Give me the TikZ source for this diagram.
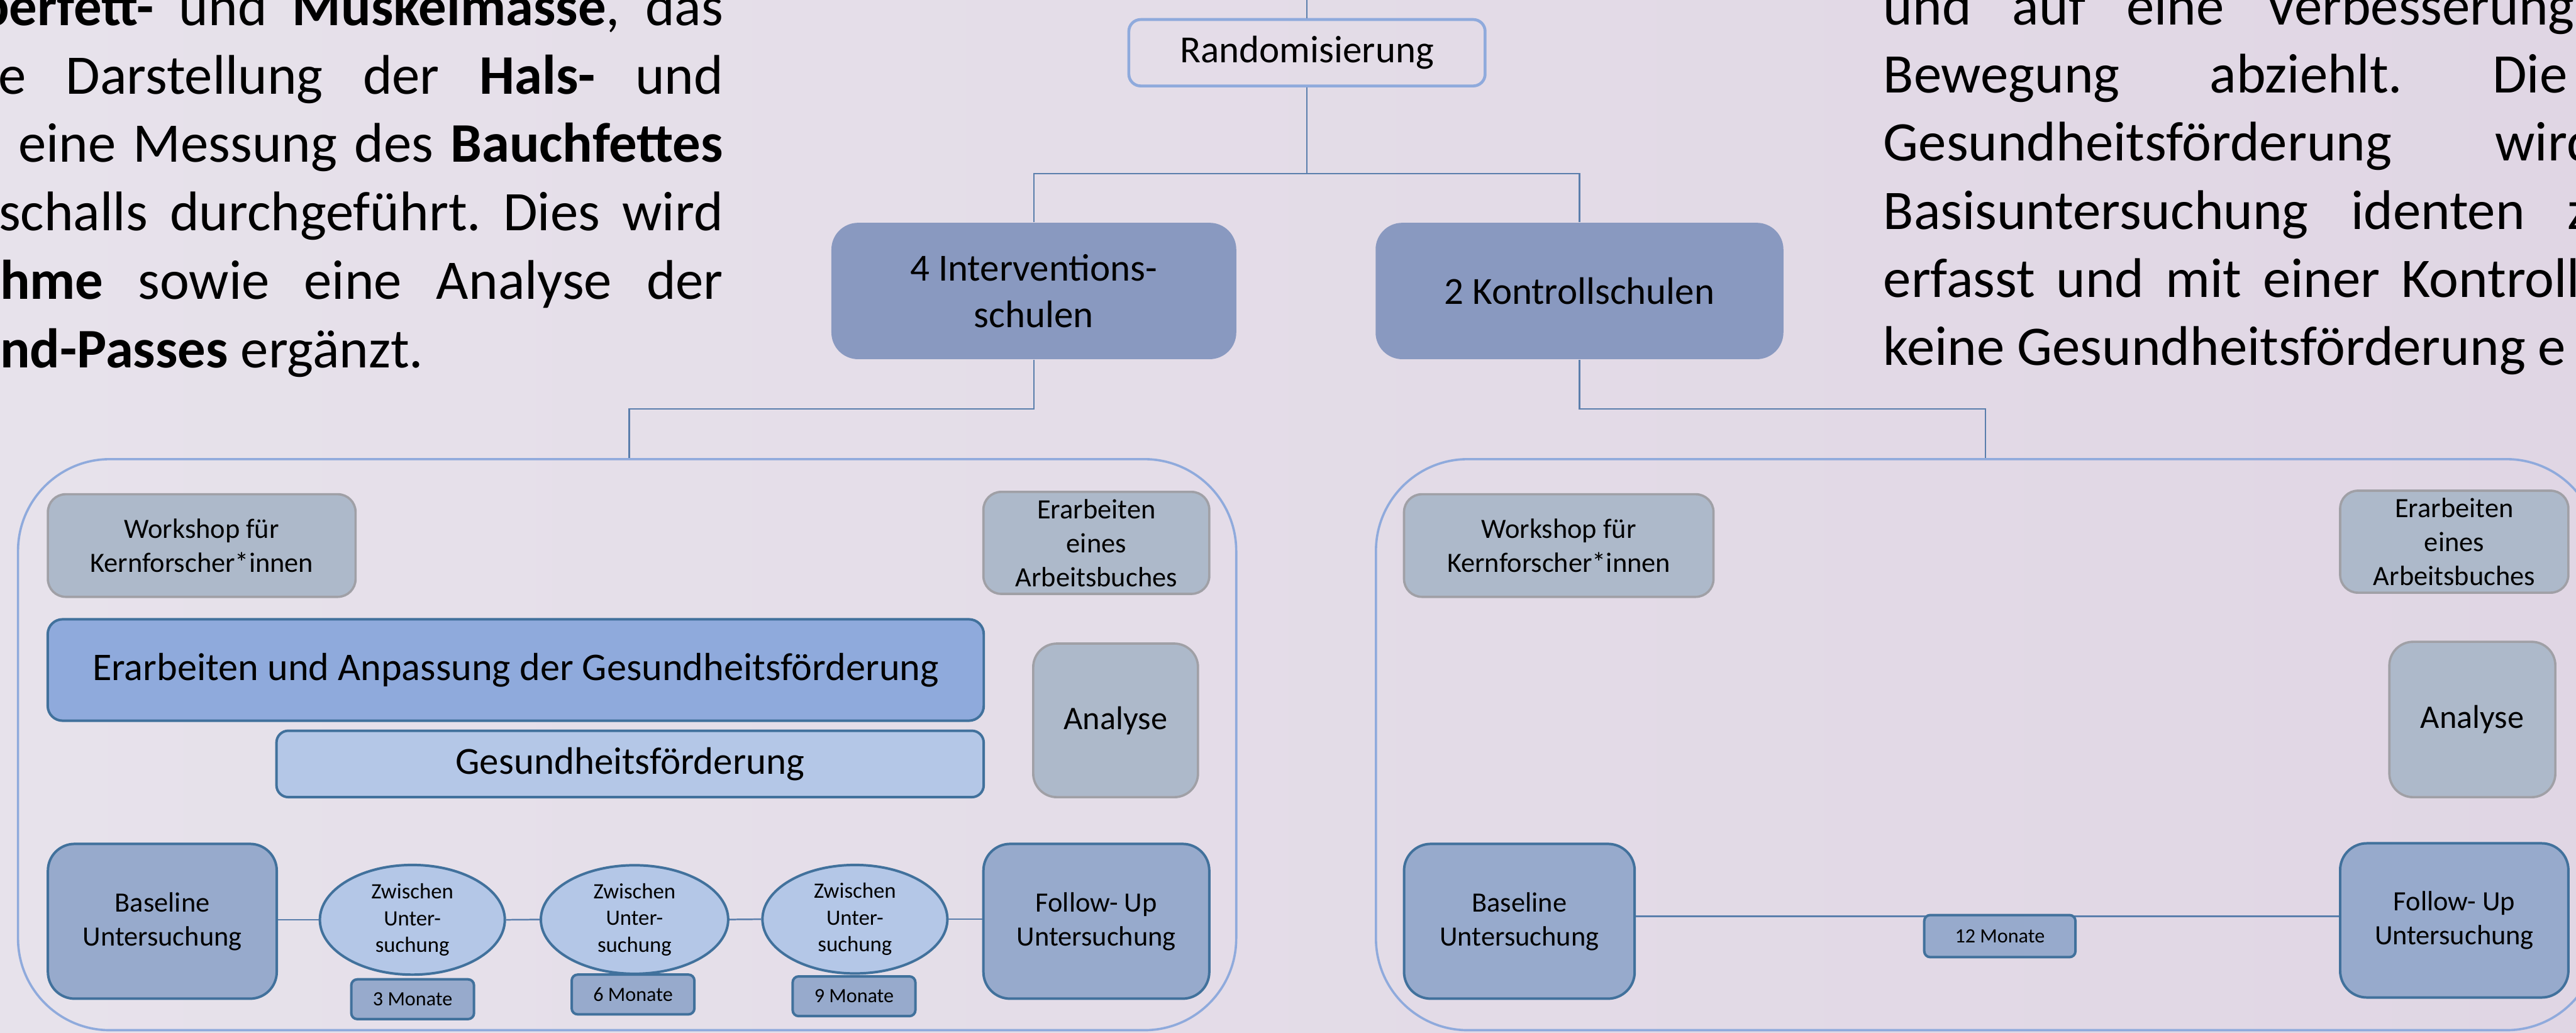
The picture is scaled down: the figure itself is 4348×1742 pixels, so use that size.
\documentclass[tikz,border=0pt]{standalone}
\usepackage{fontspec}
\setmainfont{Carlito}
\usetikzlibrary{shapes.geometric}
\frenchspacing

\definecolor{bgL}{RGB}{231,226,235}
\definecolor{bgR}{RGB}{224,214,228}
\definecolor{lineblue}{RGB}{90,126,172}
\definecolor{lightborder}{RGB}{143,170,220}
\definecolor{intfill}{RGB}{137,153,192}
\definecolor{grayfill}{RGB}{173,185,202}
\definecolor{grayborder}{RGB}{160,160,166}
\definecolor{darkborder}{RGB}{65,113,156}
\definecolor{midfill}{RGB}{143,170,220}
\definecolor{palefill}{RGB}{180,199,231}
\definecolor{examfill}{RGB}{151,170,204}

\newcommand\fsBlock{\fontsize{26.8pt}{32.7pt}\selectfont}
\newcommand\fsBig{\fontsize{18.4pt}{22.4pt}\selectfont}
\newcommand\fsDev{\fontsize{18.8pt}{22.9pt}\selectfont}
\newcommand\fsMid{\fontsize{15.8pt}{19.3pt}\selectfont}
\newcommand\fsSmall{\fontsize{13.4pt}{16.3pt}\selectfont}
\newcommand\fsTiny{\fontsize{10.5pt}{12.8pt}\selectfont}
\newcommand\fsMon{\fontsize{9.7pt}{11.8pt}\selectfont}

\tikzset{
  conn/.style={draw=lineblue, line width=0.75pt},
  blk/.style={inner sep=0pt, outer sep=0pt, font=\fsBlock\frenchspacing, text=black},
  randbox/.style={rectangle, rounded corners=0.2cm, draw=lightborder, line width=1.4pt, inner sep=0pt, font=\fsBig},
  schoolbox/.style={rectangle, rounded corners=0.45cm, fill=intfill, inner sep=0pt, align=center, font=\fsBig},
  container/.style={rectangle, rounded corners=1.55cm, draw=lightborder, line width=1.1pt, inner sep=0pt},
  graybox/.style={rectangle, rounded corners=0.3cm, fill=grayfill, draw=grayborder, line width=1.1pt, inner sep=0pt, align=center, font=\fsSmall},
  anabox/.style={rectangle, rounded corners=0.4cm, fill=grayfill, draw=grayborder, line width=1.1pt, inner sep=0pt, align=center, font=\fsMid},
  devbox/.style={rectangle, rounded corners=0.25cm, fill=midfill, draw=darkborder, line width=1.2pt, inner sep=0pt, align=center, font=\fsDev},
  gfbox/.style={rectangle, rounded corners=0.2cm, fill=palefill, draw=darkborder, line width=1.2pt, inner sep=0pt, align=center, font=\fsBig},
  exambox/.style={rectangle, rounded corners=0.45cm, fill=examfill, draw=darkborder, line width=1.2pt, inner sep=0pt, align=center, font=\fsSmall},
  zwell/.style={ellipse, fill=palefill, draw=darkborder, line width=1.2pt, inner sep=0pt, align=center, font=\fsTiny},
  monbox/.style={rectangle, rounded corners=0.1cm, fill=examfill, draw=darkborder, line width=1.2pt, inner sep=0pt, align=center, font=\fsMon}
}

\begin{document}
\begin{tikzpicture}[x=0.01cm, y=-0.01cm]
\useasboundingbox (0,0) rectangle (4348,1742);
\clip (0,0) rectangle (4348,1742);
\fill[left color=bgL, right color=bgR] (0,0) rectangle (4348,1742);

% left text block
\node[blk, anchor=base west] (t1) at (-35,43) {\makebox[12.55cm][s]{\textbf{berfett-} und \textbf{Muskelmasse}, das}};
\node[blk, anchor=base west] (t2) at (-3,158.4) {\makebox[12.23cm][s]{e Darstellung der \textbf{Hals-} und}};
\node[blk, anchor=base west] (t3) at (31,273.8) {\makebox[11.89cm][s]{eine Messung des \textbf{Bauchfettes}}};
\node[blk, anchor=base west] (t4) at (-2,389.2) {\makebox[12.22cm][s]{schalls durchgeführt. Dies wird}};
\node[blk, anchor=base west] (t5) at (0,504.6) {\makebox[12.20cm][s]{\textbf{hme} sowie eine Analyse der}};
\node[blk, anchor=base west] (t6) at (0,620) {\textbf{nd-Passes} ergänzt.};

% right text block
\node[blk, anchor=base west] (r1) at (3179,42) {\makebox[11.66cm][s]{und auf eine Verbesserung}};
\node[blk, anchor=base west] (r2) at (3179,156.8) {\makebox[11.54cm][s]{Bewegung abziehlt. Die}};
\node[blk, anchor=base west] (r3) at (3179,271.6) {\makebox[12.02cm][s]{Gesundheitsförderung wird}};
\node[blk, anchor=base west] (r4) at (3179,386.4) {\makebox[11.91cm][s]{Basisuntersuchung identen z}};
\node[blk, anchor=base west] (r5) at (3179,501.2) {\makebox[11.75cm][s]{erfasst und mit einer Kontroll}};
\node[blk, anchor=base west] (r6) at (3179,616) {keine Gesundheitsförderung e};

% top tree
\node[randbox, minimum width=6.01cm, minimum height=1.12cm] (rand) at (2206,89) {Randomisierung};
\node[schoolbox, minimum width=6.83cm, minimum height=2.30cm] (interv) at (1745,491) {4 Interventions-\\schulen};
\node[schoolbox, minimum width=6.88cm, minimum height=2.30cm] (kontr) at (2666,491) {2 Kontrollschulen};

\coordinate (topend) at (2206,0);
\coordinate (jr) at (2206,293);
\coordinate (jl) at (1062,690);
\coordinate (jk) at (3351,690);

% containers
\node[container, minimum width=20.55cm, minimum height=9.63cm] (contL) at (1058.5,1256.5) {};
\node[container, minimum width=20.62cm, minimum height=9.63cm] (contR) at (3354,1256.5) {};

\draw[conn] (rand.north) -- (topend);
\draw[conn] (rand.south) -- (jr);
\draw[conn] (interv.north) |- (jr) -| (kontr.north);
\draw[conn] (interv.south) |- (jl) -- (jl |- contL.north);
\draw[conn] (kontr.south) |- (jk) -- (jk |- contR.north);

% left container content
\node[graybox, minimum width=5.19cm, minimum height=1.73cm] (wsL) at (340.5,920.5) {Workshop für\\Kernforscher*innen};
\node[graybox, minimum width=3.81cm, minimum height=1.72cm] (abL) at (1850.5,916) {Erarbeiten\\eines\\Arbeitsbuches};
\node[devbox, minimum width=15.79cm, minimum height=1.71cm] (dev) at (870.5,1130.5) {Erarbeiten und Anpassung der Gesundheitsförderung};
\node[gfbox, minimum width=11.93cm, minimum height=1.12cm] (gf) at (1063.5,1289) {Gesundheitsförderung};
\node[anabox, minimum width=2.78cm, minimum height=2.59cm] (anL) at (1883,1215.5) {Analyse};
\node[exambox, minimum width=3.86cm, minimum height=2.61cm] (baseL) at (274,1554.5) {Baseline\\Untersuchung};
\node[exambox, minimum width=3.81cm, minimum height=2.61cm] (folL) at (1850.5,1554.5) {Follow- Up\\Untersuchung};
\node[zwell, minimum width=3.12cm, minimum height=1.85cm] (z1) at (696,1552) {Zwischen\\Unter-\\suchung};
\node[zwell, minimum width=3.16cm, minimum height=1.83cm] (z2) at (1071,1551.5) {Zwischen\\Unter-\\suchung};
\node[zwell, minimum width=3.12cm, minimum height=1.83cm] (z3) at (1443,1551) {Zwischen\\Unter-\\suchung};
\draw[conn] (baseL.east |- z1.west) -- (z1.west);
\draw[conn] (z1.east) -- (z2.west);
\draw[conn] (z2.east) -- (z3.west);
\draw[conn] (z3.east) -- (folL.west |- z3.east);
\node[monbox, minimum width=2.07cm, minimum height=0.67cm] (m3) at (696.5,1686) {3 Monate};
\node[monbox, minimum width=2.07cm, minimum height=0.67cm] (m6) at (1068.5,1678) {6 Monate};
\node[monbox, minimum width=2.07cm, minimum height=0.67cm] (m9) at (1441.5,1681) {9 Monate};

% right container content
\node[graybox, minimum width=5.22cm, minimum height=1.73cm] (wsR) at (2631,920.5) {Workshop für\\Kernforscher*innen};
\node[graybox, minimum width=3.85cm, minimum height=1.72cm] (abR) at (4142.5,914) {Erarbeiten\\eines\\Arbeitsbuches};
\node[anabox, minimum width=2.80cm, minimum height=2.62cm] (anR) at (4173,1214) {Analyse};
\node[exambox, minimum width=3.89cm, minimum height=2.61cm] (baseR) at (2564.5,1554.5) {Baseline\\Untersuchung};
\node[exambox, minimum width=3.85cm, minimum height=2.60cm] (folR) at (4142.5,1553) {Follow- Up\\Untersuchung};
\coordinate (l12) at (3375.5,1546);
\draw[conn] (baseR.east |- l12) -- (folR.west |- l12);
\node[monbox, minimum width=2.55cm, minimum height=0.71cm] (m12) at (3375.5,1579.5) {12 Monate};
\end{tikzpicture}
\end{document}
